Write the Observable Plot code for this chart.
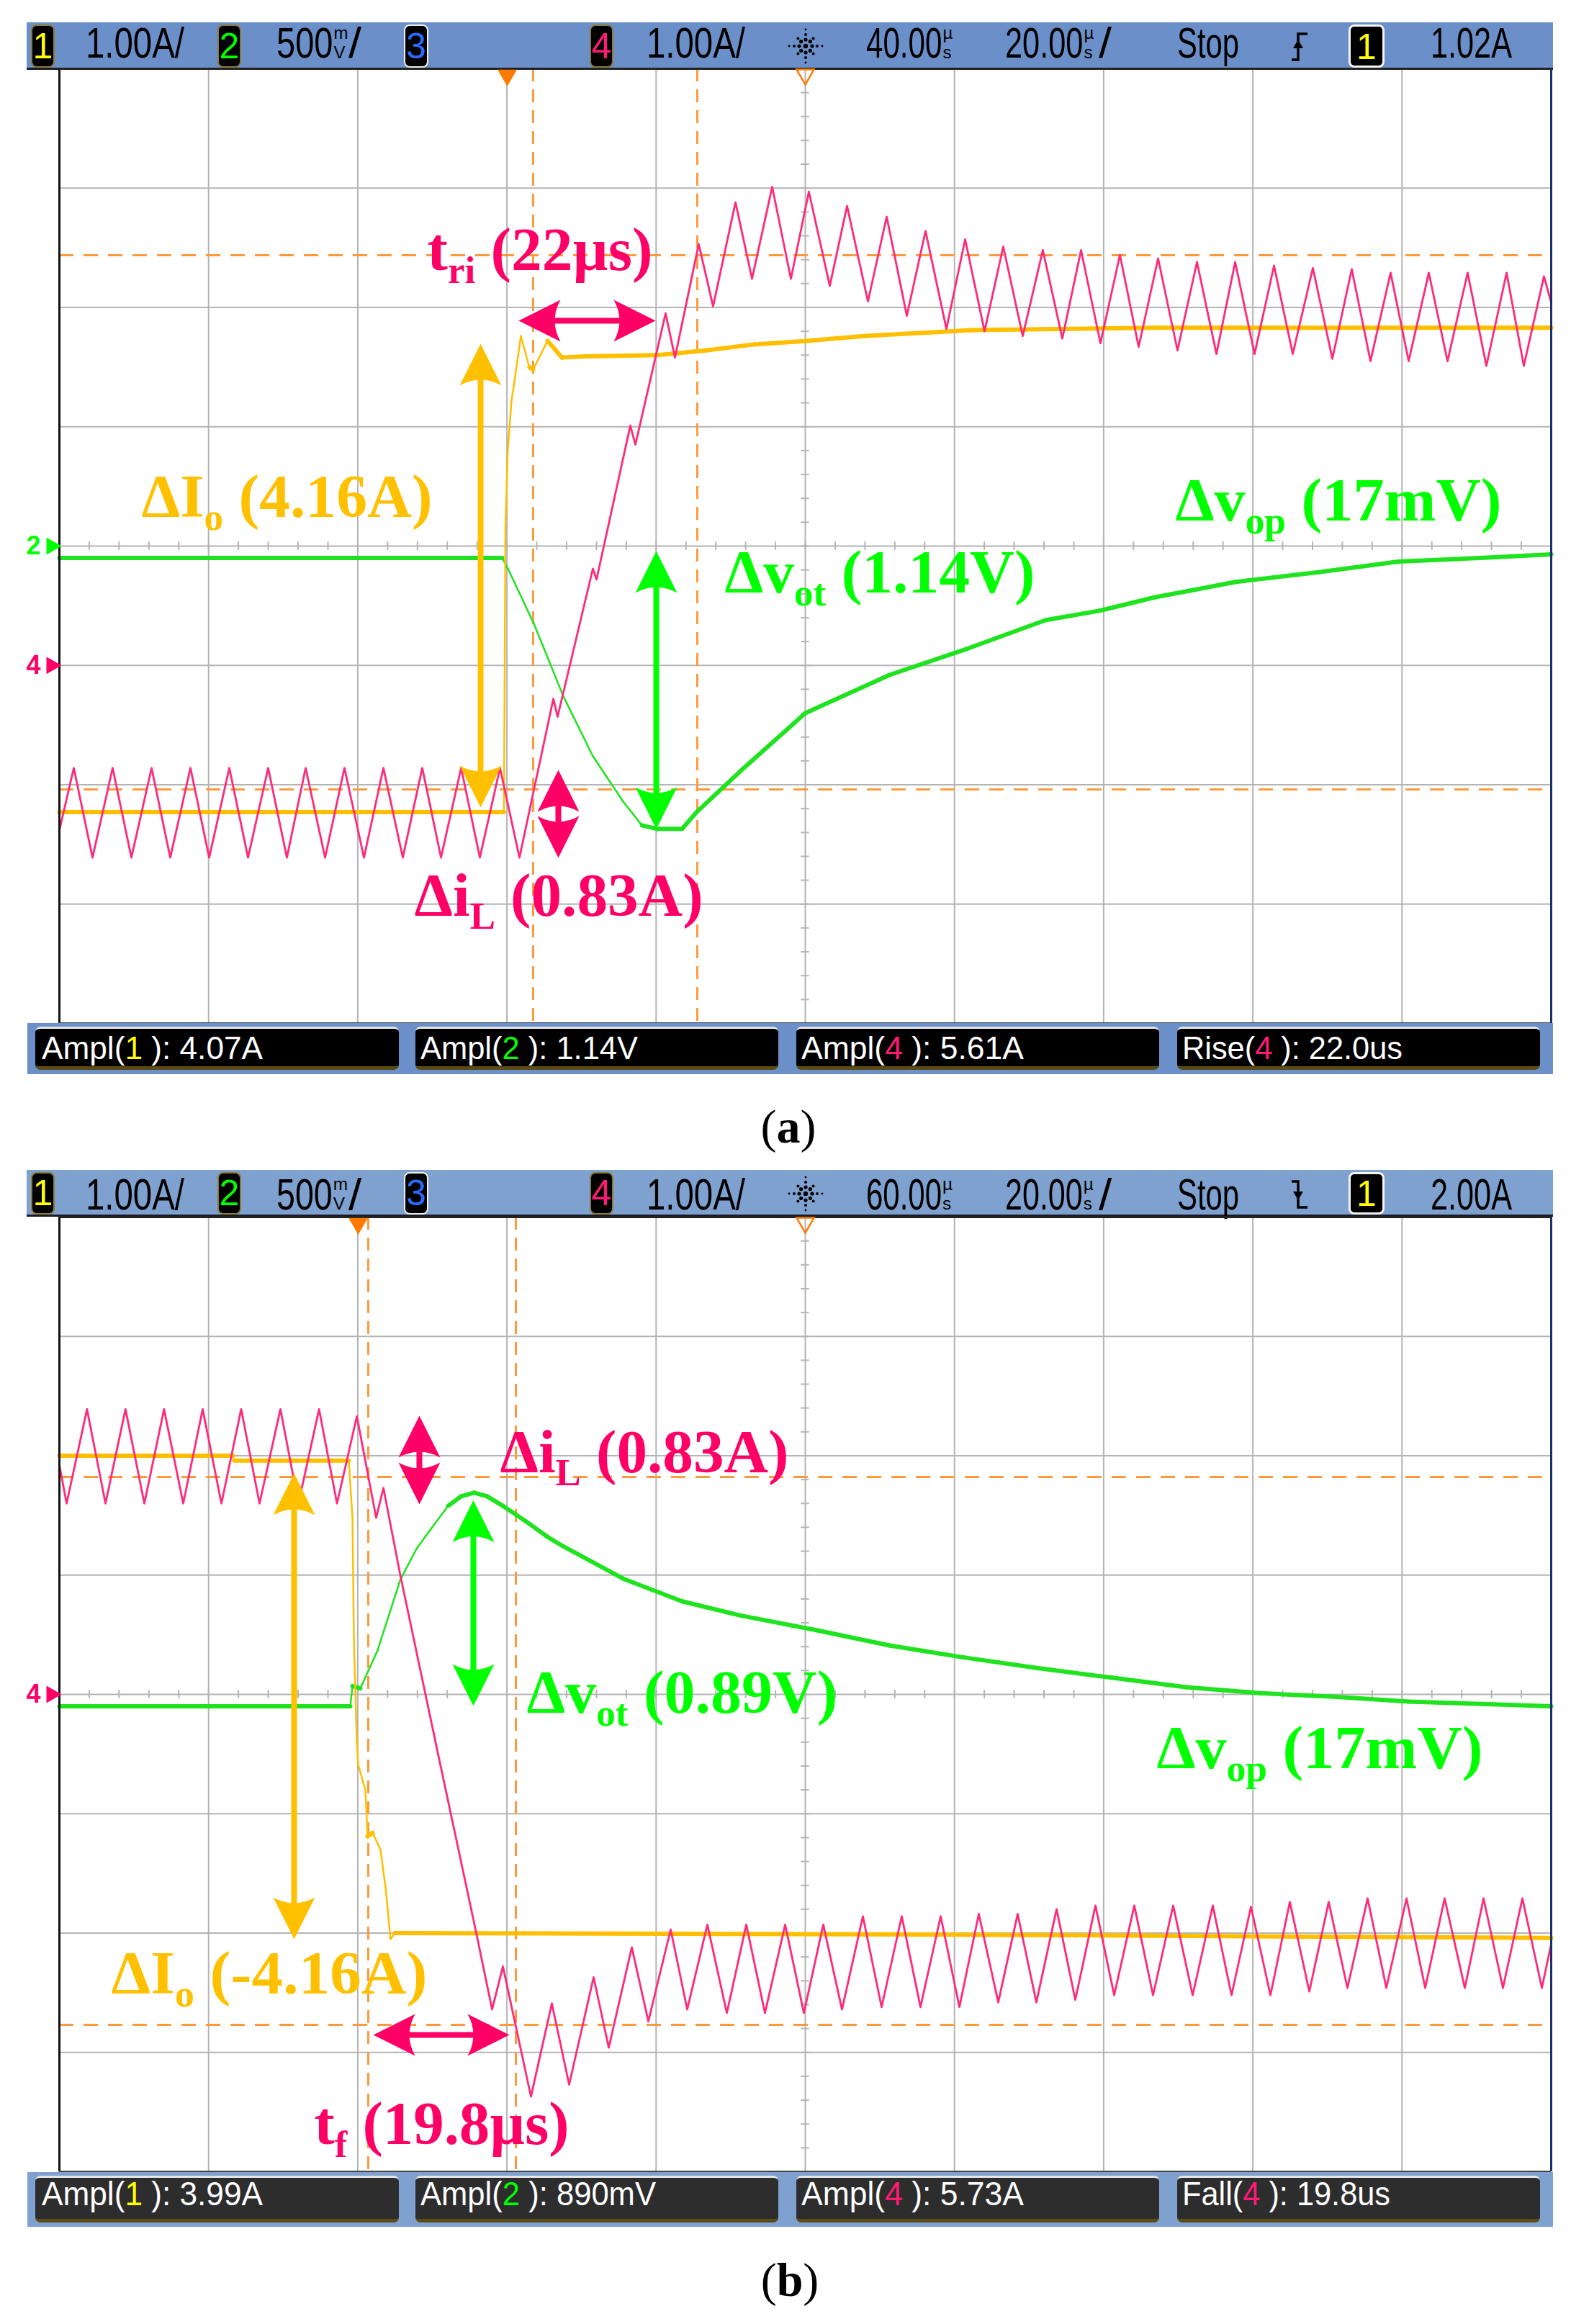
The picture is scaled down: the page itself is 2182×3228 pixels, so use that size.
<!DOCTYPE html>
<html><head><meta charset="utf-8">
<script src="https://cdn.jsdelivr.net/npm/d3@7"></script>
<script src="https://cdn.jsdelivr.net/npm/@observablehq/plot@0.6"></script>
<style>
html,body{margin:0;padding:0;background:#fff;}
#root{position:relative;width:2182px;height:3228px;overflow:hidden;background:#fff;}
.txt{position:absolute;white-space:nowrap;line-height:1;transform-origin:0 0;}
</style></head><body><div id="root"></div>
<script>
// ---------------- DATA (time in µs, vertical position in screen divisions from centre) ----------------
// Panel (a): load step-up
const pinkA = [[0,-2.38],[1.93,-1.86],[4.44,-2.61],[7.14,-1.86],[9.65,-2.61],[12.36,-1.86],[14.86,-2.61],[17.57,-1.86],[20.08,-2.61],[22.78,-1.86],[25.29,-2.61],[27.99,-1.86],[30.50,-2.61],[33.01,-1.86],[35.62,-2.61],[38.22,-1.86],[40.83,-2.61],[43.44,-1.86],[46.04,-2.61],[48.65,-1.86],[51.16,-2.61],[53.86,-1.86],[56.37,-2.61],[59.07,-1.86],[61.68,-2.61],[66.22,-1.28],[66.79,-1.43],[71.52,-0.19],[72.01,-0.28],[76.54,1.01],[77.22,0.85],[81.27,1.95],[82.53,1.58],[85.71,2.53],[87.64,2.01],[90.64,2.88],[92.86,2.24],[95.56,3.01],[98.07,2.24],[100.48,2.97],[103.28,2.18],[105.60,2.85],[108.40,2.05],[110.91,2.76],[113.61,1.93],[116.12,2.64],[118.92,1.82],[121.43,2.57],[124.03,1.80],[126.54,2.51],[129.15,1.76],[131.85,2.48],[134.46,1.74],[136.97,2.48],[139.57,1.70],[142.18,2.44],[144.69,1.67],[147.30,2.41],[149.90,1.64],[152.51,2.38],[155.12,1.61],[157.63,2.38],[160.23,1.61],[162.84,2.35],[165.35,1.61],[168.05,2.33],[170.66,1.57],[173.26,2.32],[175.77,1.55],[178.47,2.29],[180.89,1.55],[183.59,2.29],[186.10,1.55],[188.80,2.29],[191.31,1.51],[194.02,2.29],[196.33,1.51],[199.03,2.26],[200,2.04]];
const orangeA = [[0,-2.23],[59.6,-2.23],[59.8,0.17],[60.1,0.79],[60.6,1.21],[61.0,1.38],[61.87,1.76],[63.0,1.50],[63.51,1.48],[65.44,1.72],[67.38,1.58],[70.56,1.59],[80.21,1.60],[86.68,1.64],[93.15,1.69],[100.19,1.72],[107.92,1.76],[122.39,1.81],[146.52,1.83],[200,1.83]];
const greenA = [[0,-0.10],[59.36,-0.10],[60.14,-0.19],[63.61,-0.65],[67.57,-1.26],[71.52,-1.76],[75.58,-2.14],[78.09,-2.34],[80.12,-2.37],[83.49,-2.37],[85.42,-2.23],[91.41,-1.88],[100.0,-1.40],[111.29,-1.08],[121.72,-0.86],[132.24,-0.62],[139.57,-0.54],[146.81,-0.43],[157.72,-0.30],[168.63,-0.22],[179.54,-0.13],[190.44,-0.10],[200,-0.07]];
const cursorTimeA = [63.51, 85.52];
const cursorLevelA = [2.437, -2.039];
const triggerTimeA = 60.04;
const arrowsA = [
  {ch:"ch1", t1:56.47, d1:1.695, t2:56.47, d2:-2.19},
  {ch:"ch2", t1:80.02, d1:-0.042, t2:80.02, d2:-2.371},
  {ch:"ch4", t1:66.89, d1:-1.876, t2:66.89, d2:-2.612},
  {ch:"ch4", t1:61.58, d1:1.888, t2:79.92, d2:1.888}
];
const labelsA = [
  {s:"t_{ri} (22µs)", ch:"ch4", t:49.32, d:2.311},
  {s:"ΔI_{o} (4.16A)", ch:"ch1", t:11.00, d:0.247},
  {s:"Δv_{op} (17mV)", ch:"ch2", t:149.61, d:0.217},
  {s:"Δv_{ot} (1.14V)", ch:"ch2", t:89.19, d:-0.392},
  {s:"Δi_{L} (0.83A)", ch:"ch4", t:47.59, d:-3.101}
];
const markersA = [{lab:"2", ch:"ch2", d:0}, {lab:"4", ch:"ch4", d:-1}];
const headerA = ["1.00A/", "500mV/", "1.00A/", "40.00µs", "20.00µs/", "Stop", "1.02A"];
const measA = [["Ampl","1","4.07A"],["Ampl","2","1.14V"],["Ampl","4","5.61A"],["Rise","4","22.0us"]];

// Panel (b): load step-down
const pinkB = [[0,1.92],[0.97,1.60],[3.70,2.39],[6.18,1.60],[8.86,2.39],[11.39,1.60],[14.03,2.39],[16.60,1.60],[19.21,2.39],[21.72,1.60],[24.37,2.39],[26.83,1.60],[29.63,2.39],[32.05,1.60],[34.81,2.39],[37.22,1.60],[39.88,2.33],[42.47,1.48],[43.44,1.73],[45.70,1.00],[50.87,-0.53],[55.79,-1.97],[58.01,-2.64],[59.46,-2.28],[63.22,-3.37],[66.02,-2.59],[68.34,-3.27],[71.62,-2.37],[73.65,-2.96],[76.74,-2.12],[78.96,-2.74],[81.95,-1.97],[84.17,-2.64],[86.87,-1.93],[89.48,-2.67],[92.09,-1.93],[94.59,-2.67],[97.30,-1.93],[99.81,-2.67],[102.41,-1.93],[104.92,-2.64],[107.72,-1.86],[110.23,-2.62],[112.93,-1.86],[115.44,-2.62],[118.15,-1.86],[120.66,-2.62],[123.26,-1.84],[125.87,-2.58],[128.47,-1.84],[130.98,-2.58],[133.69,-1.80],[136.20,-2.56],[138.90,-1.77],[141.41,-2.52],[144.11,-1.77],[146.62,-2.52],[149.32,-1.77],[151.93,-2.52],[154.63,-1.77],[157.14,-2.52],[159.75,-1.78],[162.36,-2.52],[164.96,-1.74],[167.57,-2.49],[170.17,-1.74],[172.68,-2.46],[175.39,-1.71],[177.90,-2.46],[180.60,-1.71],[183.11,-2.46],[185.71,-1.71],[188.42,-2.46],[190.93,-1.71],[193.53,-2.46],[196.14,-1.71],[198.75,-2.46],[200,-2.09]];
const orangeB = [[0,2.00],[23.26,2.00],[23.46,1.96],[38.80,1.96],[39.29,1.48],[39.48,0.47],[39.86,-0.38],[40.06,-0.59],[41.02,-0.80],[41.31,-1.19],[41.99,-1.16],[43.05,-1.30],[43.73,-1.62],[44.40,-2.05],[44.98,-2.00],[107.92,-2.01],[200,-2.04]];
const greenB = [[0,-0.10],[39.0,-0.10],[39.29,0.07],[40.35,0.05],[42.66,0.37],[45.70,0.96],[47.88,1.22],[49.61,1.37],[52.12,1.58],[53.86,1.66],[55.60,1.69],[57.34,1.66],[59.46,1.58],[62.55,1.45],[65.44,1.32],[67.57,1.24],[75.58,0.97],[83.49,0.78],[91.41,0.66],[101.35,0.54],[111.29,0.41],[121.24,0.31],[131.18,0.22],[141.12,0.14],[151.06,0.06],[161.00,0.01],[170.95,-0.02],[180.89,-0.06],[190.73,-0.08],[200,-0.10]];
const cursorTimeB = [41.41, 61.20];
const cursorLevelB = [1.822, -2.769];
const triggerTimeB = 40.06;
const arrowsB = [
  {ch:"ch4", t1:48.26, d1:2.335, t2:48.26, d2:1.593},
  {ch:"ch2", t1:55.50, d1:1.626, t2:55.50, d2:-0.097},
  {ch:"ch1", t1:31.47, d1:1.852, t2:31.47, d2:-2.051},
  {ch:"ch4", t1:42.09, d1:-2.854, t2:60.33, d2:-2.854}
];
const labelsB = [
  {s:"Δi_{L} (0.83A)", ch:"ch4", t:59.07, d:1.864},
  {s:"Δv_{ot} (0.89V)", ch:"ch2", t:62.64, d:-0.151},
  {s:"Δv_{op} (17mV)", ch:"ch2", t:147.10, d:-0.621},
  {s:"ΔI_{o} (-4.16A)", ch:"ch1", t:6.95, d:-2.504},
  {s:"t_{f} (19.8µs)", ch:"ch4", t:34.17, d:-3.765}
];
const markersB = [{lab:"4", ch:"ch4", d:0}];
const headerB = ["1.00A/", "500mV/", "1.00A/", "60.00µs", "20.00µs/", "Stop", "2.00A"];
const measB = [["Ampl","1","3.99A"],["Ampl","2","890mV"],["Ampl","4","5.73A"],["Fall","4","19.8us"]];

const captions = ["(a)", "(b)"];

// ---------------- STYLE / LAYOUT ----------------
const noteColor = {ch1:"#ffc000", ch2:"#00ff00", ch4:"#ff0066"};
const traceColor = {ch1:"#ffbf00", ch2:"#1fe31f", ch4:"#ff2a7a"};
const digitColor = {"1":"#ffff00","2":"#00ff00","3":"#2a6cff","4":"#ff1a75"};
const labelWidth = {
  "t_{ri} (22µs)":313, "ΔI_{o} (4.16A)":404, "Δv_{op} (17mV)":453, "Δv_{ot} (1.14V)":431, "Δi_{L} (0.83A)":401,
  "Δv_{ot} (0.89V)":432, "ΔI_{o} (-4.16A)":439, "t_{f} (19.8µs)":354
};
const PX_T = 10.36, PX_D = 165.75;
const root = document.getElementById("root");

const arrowHead = {
  draw(ctx, size) {
    const r = Math.sqrt(size / Math.PI);
    ctx.moveTo(0, 0);
    ctx.lineTo(r, 2 * r);
    ctx.quadraticCurveTo(0, 1.45 * r, -r, 2 * r);
    ctx.closePath();
  }
};

function segments(arr, ch, thick, thin) {
  const out = [];
  for (let i = 1; i < arr.length; i++) {
    const [t1, d1] = arr[i - 1], [t2, d2] = arr[i];
    const px = Math.abs(t2 - t1) * PX_T, py = Math.abs(d2 - d1) * PX_D;
    out.push({t1, d1, t2, d2, ch, w: py < 1.2 * px ? thick : thin});
  }
  return out;
}
function heads(arrows) {
  const out = [];
  for (const a of arrows) {
    for (const [p, q] of [[[a.t1, a.d1], [a.t2, a.d2]], [[a.t2, a.d2], [a.t1, a.d1]]]) {
      const dx = (p[0] - q[0]) * PX_T, dy = -(p[1] - q[1]) * PX_D;
      out.push({t: p[0], d: p[1], ch: a.ch, rot: Math.atan2(dx, -dy) * 180 / Math.PI});
    }
  }
  return out;
}
function pts(arr) { return arr.map(([t, d]) => ({t, d})); }

function makePanel(top, P) {
  const grid = "#b4b4b4";
  const svg = Plot.plot({
    width: 2182, height: 1326,
    marginLeft: 82, marginRight: 28, marginTop: 0, marginBottom: 0,
    x: {domain: [0, 200], axis: null},
    y: {domain: [-4, 4], axis: null},
    color: {type: "identity"},
    style: {overflow: "visible", background: "transparent"},
    marks: [
      Plot.ruleX(d3.range(20, 200, 20), {stroke: grid, strokeWidth: 2}),
      Plot.ruleY(d3.range(-3, 4, 1), {stroke: grid, strokeWidth: 2}),
      Plot.ruleX(d3.range(0, 200.01, 4), {x: d => d, y1: -0.035, y2: 0.035, stroke: grid, strokeWidth: 2}),
      Plot.ruleY(d3.range(-4, 4.01, 0.2), {y: d => d, x1: 99.45, x2: 100.55, stroke: grid, strokeWidth: 2}),
      Plot.ruleX(P.cursorT, {stroke: "#ff9a3c", strokeWidth: 3, strokeDasharray: "18,11"}),
      Plot.ruleY(P.cursorD, {stroke: "#ff9a3c", strokeWidth: 3, strokeDasharray: "20,14"}),
      Plot.link(segments(P.green, "ch2", 6, 2.5), {x1: "t1", y1: "d1", x2: "t2", y2: "d2", stroke: traceColor.ch2, strokeWidth: "w", strokeLinecap: "round"}),
      Plot.link(segments(P.orange, "ch1", 6, 2.5), {x1: "t1", y1: "d1", x2: "t2", y2: "d2", stroke: traceColor.ch1, strokeWidth: "w", strokeLinecap: "round"}),
      Plot.line(pts(P.pink), {x: "t", y: "d", stroke: traceColor.ch4, strokeWidth: 2.8}),
      Plot.ruleX([0], {stroke: "#111", strokeWidth: 3}),
      Plot.ruleX([200], {stroke: "#1d2f6e", strokeWidth: 3}),
      Plot.ruleY([-4], {stroke: "#444", strokeWidth: 3}),
      Plot.ruleY([4], {stroke: "#222", strokeWidth: 3}),
      Plot.dot([P.trig], {x: d => d, y: 4, symbol: "triangle", rotate: 180, r: 10, fill: "#ff7a00", dy: 9}),
      Plot.dot([100], {x: d => d, y: 4, symbol: "triangle", rotate: 180, r: 9, fill: "none", stroke: "#ff7a00", strokeWidth: 2.5, dy: 8}),
      Plot.text(P.markers, {x: 0, y: "d", text: "lab", fill: d => noteColor[d.ch], dx: -36, fontSize: 36, fontWeight: "bold", fontFamily: "Liberation Sans, sans-serif"}),
      Plot.dot(P.markers, {x: 0, y: "d", symbol: "triangle", rotate: 90, r: 9, fill: d => noteColor[d.ch], dx: -11}),
      Plot.arrow(P.arrows, {x1: "t1", y1: "d1", x2: "t2", y2: "d2", stroke: d => noteColor[d.ch], strokeWidth: 8, headLength: 0, insetStart: 28, insetEnd: 28, strokeLinecap: "butt"}),
      Plot.dot(heads(P.arrows), {x: "t", y: "d", symbol: arrowHead, r: 29, rotate: "rot", fill: d => noteColor[d.ch], stroke: "none"}),
      Plot.text(P.labels, {x: "t", y: "d", text: "s", fill: d => noteColor[d.ch], fontSize: 84, fontWeight: "bold", fontFamily: "Liberation Serif, Times New Roman, serif", textAnchor: "start", lineAnchor: "bottom"})
    ]
  });
  // subscripts + fitted widths for annotation labels
  const NS = "http://www.w3.org/2000/svg";
  svg.querySelectorAll("text").forEach(el => {
    const str = el.textContent;
    const w = labelWidth[str];
    if (!w) return;
    el.textContent = "";
    let sub = false;
    for (const part of str.split(/(_\{[^}]*\})/)) {
      if (!part) continue;
      const ts = document.createElementNS(NS, "tspan");
      if (part.startsWith("_{")) {
        ts.textContent = part.slice(2, -1);
        ts.setAttribute("font-size", "52");
        ts.setAttribute("dy", "18");
        sub = true;
      } else {
        ts.textContent = part;
        if (sub) { ts.setAttribute("dy", "-18"); sub = false; }
      }
      el.appendChild(ts);
    }
    el.setAttribute("textLength", w);
    el.setAttribute("lengthAdjust", "spacingAndGlyphs");
  });
  const holder = document.createElement("div");
  holder.style.cssText = `position:absolute;left:0;top:${top}px;width:2182px;height:1326px;`;
  holder.appendChild(svg);
  root.appendChild(holder);
}

// ---------------- HTML furniture: header, measurement bar, caption ----------------
function box(x, y, w, h, style) {
  const d = document.createElement("div");
  d.style.cssText = `position:absolute;left:${x}px;top:${y}px;width:${w}px;height:${h}px;box-sizing:border-box;` + style;
  root.appendChild(d);
  return d;
}
function text(html, left, width, baseline, fs, style) {
  const s = document.createElement("span");
  s.className = "txt";
  s.innerHTML = html;
  s.style.cssText += `left:${left}px;top:${baseline - 0.85 * fs}px;font-size:${fs}px;` + (style || "");
  root.appendChild(s);
  const w0 = s.getBoundingClientRect().width;
  if (width && w0) s.style.transform = `scaleX(${width / w0})`;
  return s;
}
// stacked unit glyph (e.g. m over V) drawn as two separate small text pieces that do not overlap
function stacked(a, b, left, baseline, fs) {
  const small = fs * 0.4;
  text(a, left, 0, baseline - small * 1.12, small, "color:#000;font-family:'Liberation Sans',sans-serif;");
  text(b, left, 0, baseline, small, "color:#000;font-family:'Liberation Sans',sans-serif;");
}
function headerValue(s, left, width, baseline, fs) {
  const m = s.match(/^([\d.]+)(mV|µs)(\/?)$/);
  const font = "color:#000;font-family:'Liberation Sans Narrow','Liberation Sans',sans-serif;";
  if (!m) { text(s, left, width, baseline, fs, font); return; }
  const [a, b] = m[2] === "mV" ? ["m", "V"] : ["µ", "s"];
  const unitW = fs * 0.36;
  const slashW = m[3] ? fs * 0.3 : 0;
  const numW = width - unitW - slashW;
  text(m[1], left, numW, baseline, fs, font);
  stacked(a, b, left + numW + 1, baseline, fs);
  if (m[3]) text("/", left + numW + unitW, slashW, baseline, fs, font);
}
function logo(x, y) {
  const NS = "http://www.w3.org/2000/svg";
  const s = document.createElementNS(NS, "svg");
  s.setAttribute("width", 56); s.setAttribute("height", 56);
  s.style.cssText = `position:absolute;left:${x}px;top:${y}px;`;
  const add = (cx, cy, r) => { const c = document.createElementNS(NS, "circle"); c.setAttribute("cx", cx); c.setAttribute("cy", cy); c.setAttribute("r", r); c.setAttribute("fill", "#000"); s.appendChild(c); };
  add(28, 28, 3.2);
  for (let k = 0; k < 8; k++) {
    const a = k * Math.PI / 4, long = k % 2 === 0;
    const rr = long ? [9, 16, 23] : [9, 15];
    rr.forEach((r, j) => add(28 + r * Math.cos(a), 28 + r * Math.sin(a), 2.6 - j * 0.6));
  }
  root.appendChild(s);
}
function trigIcon(x, y, rising) {
  const NS = "http://www.w3.org/2000/svg";
  const s = document.createElementNS(NS, "svg");
  s.setAttribute("width", 28); s.setAttribute("height", 44);
  s.style.cssText = `position:absolute;left:${x}px;top:${y}px;`;
  s.innerHTML = rising
    ? `<path d="M2 40 H11 V4 H24" fill="none" stroke="#000" stroke-width="3.5"/><path d="M4 24 L18 24 L11 12 Z" fill="#000"/>`
    : `<path d="M2 4 H11 V40 H24" fill="none" stroke="#000" stroke-width="3.5"/><path d="M4 18 L18 18 L11 30 Z" fill="#000"/>`;
  root.appendChild(s);
}
function chBox(x1, x2, top, h, digit, border) {
  const d = box(x1, top, x2 - x1, h, `background:#000;border:${border};border-radius:8px;color:${digitColor[digit]};font:50px 'Liberation Sans Narrow','Liberation Sans',sans-serif;text-align:center;line-height:${h - 4}px;`);
  d.textContent = digit;
}
function header(top, h, bg, base, fs, vals, rising) {
  box(37, top, 2120, h, `background:${bg};border-bottom:3px solid #1a1a26;`);
  const bt = top + 3, bh = h - 6;
  const gold = "2px solid #8d7b3a";
  chBox(43, 76, bt, bh, "1", gold);
  chBox(302, 335, bt, bh, "2", gold);
  chBox(561, 595, bt, bh, "3", "2px solid #f0f0f0");
  chBox(819, 852, bt, bh, "4", gold);
  chBox(1873, 1923, bt, bh, "1", "3px solid #f4f4f4");
  const pos = [[119, 137], [384, 118], [898, 137], [1203, 127], [1396, 148], [1635, 86], [1987, 113]];
  vals.forEach((v, i) => headerValue(v, pos[i][0], pos[i][1], base, fs));
  logo(1091, top + 5);
  trigIcon(1792, top + 12, rising);
}
function measBar(top, h, bg, boxBg, vals, widths, base, fs) {
  box(38, top, 2119, h, `background:${bg};`);
  const xs = [[49, 554], [577, 1081], [1106, 1610], [1635, 2139]];
  const lefts = [58, 584, 1113, 1642];
  xs.forEach(([a, b]) => box(a, top + 5, b - a, h - 11, `background:${boxBg};border-radius:7px;border-top:3px solid #e6e6e6;border-bottom:5px solid #5b4c14;`));
  vals.forEach(([name, ch, val], i) => text(`${name}(<span style="color:${digitColor[ch]}">${ch}</span> ): ${val}`, lefts[i], widths[i], base, fs, "color:#fff;font-family:'Liberation Sans Narrow','Liberation Sans',sans-serif;"));
}
function caption(str, cx, base) {
  const s = text(`(<b>${str.slice(1, -1)}</b>)`, 0, 0, base, 66, "color:#000;font-family:'Liberation Serif',serif;");
  const w = s.getBoundingClientRect().width;
  s.style.left = (cx - w / 2) + "px";
}

// ---------------- BUILD ----------------
header(31, 66, "#6b8fc9", 81, 60, headerA, true);
makePanel(95, {pink: pinkA, orange: orangeA, green: greenA, cursorT: cursorTimeA, cursorD: cursorLevelA, trig: triggerTimeA, arrows: arrowsA, labels: labelsA, markers: markersA});
measBar(1421, 71, "#6b8fc9", "#000", measA, [307, 302, 309, 306], 1471, 44);
caption(captions[0], 1095, 1588);

header(1625, 65, "#7ea1cf", 1681, 61, headerB, false);
makePanel(1690, {pink: pinkB, orange: orangeB, green: greenB, cursorT: cursorTimeB, cursorD: cursorLevelB, trig: triggerTimeB, arrows: arrowsB, labels: labelsB, markers: markersB});
measBar(3017, 76, "#7ea1cf", "#2d2d2d", measB, [307, 327, 309, 289], 3063, 46);
caption(captions[1], 1097, 3190);
</script></body></html>
